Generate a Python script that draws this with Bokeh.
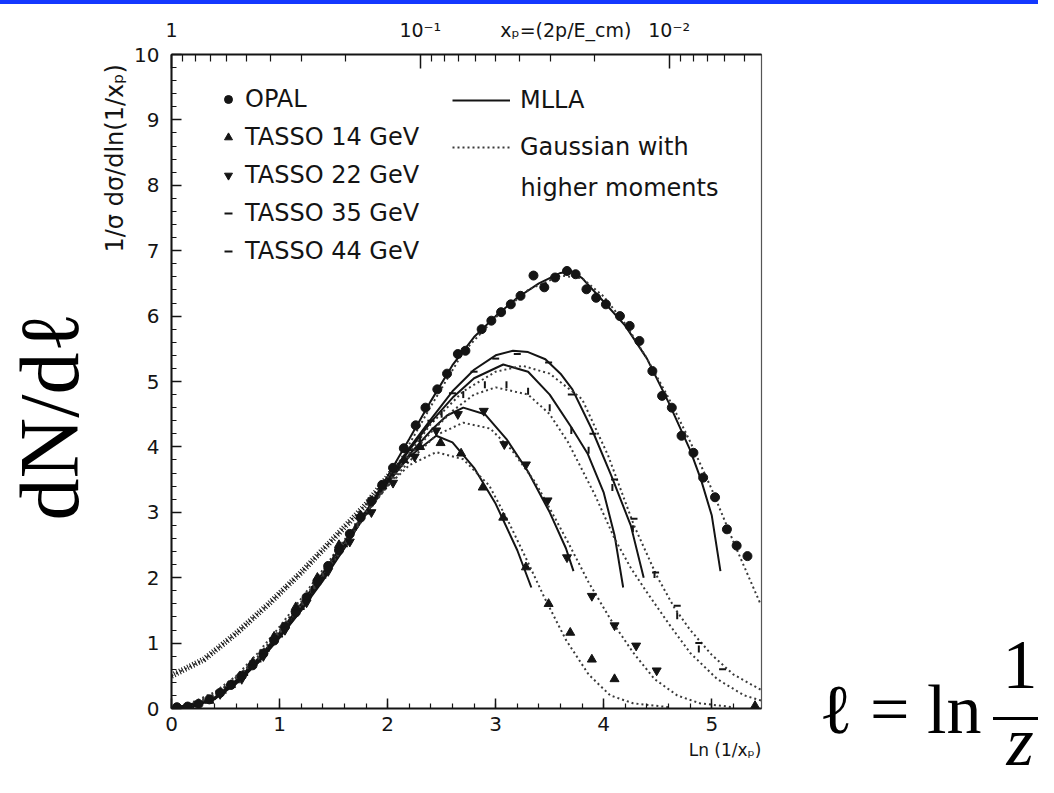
import numpy as np
from bokeh.plotting import figure
from bokeh.models import (Range1d, LinearAxis, FixedTicker, SingleIntervalTicker, Label,
                          Legend, LegendItem, Title, Div)
from bokeh.layouts import column, row
from bokeh.embed import file_html
from bokeh.resources import INLINE

# ---------------- data ----------------
opal_x = [0.05, 0.15, 0.25, 0.35, 0.45, 0.55, 0.65, 0.75, 0.85, 0.95, 1.05, 1.15, 1.25, 1.35,
          1.45, 1.55, 1.65, 1.75, 1.85, 1.95, 2.05, 2.15, 2.26, 2.35, 2.46, 2.55, 2.65, 2.72,
          2.87, 2.96, 3.05, 3.14, 3.23, 3.35, 3.45, 3.55, 3.66, 3.74, 3.84, 3.93, 4.02, 4.15,
          4.24, 4.33, 4.45, 4.54, 4.63, 4.72, 4.83, 4.92, 5.03, 5.14, 5.23, 5.33]
opal_y = [0.02, 0.03, 0.07, 0.14, 0.24, 0.36, 0.50, 0.66, 0.84, 1.04, 1.25, 1.47, 1.70, 1.94,
          2.18, 2.42, 2.67, 2.92, 3.17, 3.42, 3.68, 3.98, 4.33, 4.60, 4.88, 5.12, 5.42, 5.47,
          5.80, 5.93, 6.06, 6.18, 6.31, 6.62, 6.44, 6.59, 6.69, 6.64, 6.41, 6.28, 6.18, 6.00,
          5.85, 5.62, 5.16, 4.78, 4.60, 4.17, 3.91, 3.53, 3.23, 2.74, 2.49, 2.33]

t14_x = [0.35, 0.55, 0.75, 0.95, 1.15, 1.35, 1.55, 1.75, 1.95, 2.15, 2.30, 2.49, 2.68, 2.88,
         3.07, 3.28, 3.49, 3.69, 3.89, 4.10, 5.40]
t14_y = [0.12, 0.36, 0.70, 1.10, 1.55, 2.00, 2.50, 2.95, 3.40, 3.80, 4.00, 4.06, 3.90, 3.38,
         2.92, 2.16, 1.60, 1.16, 0.75, 0.45, 0.04]

t22_x = [0.45, 0.65, 0.85, 1.05, 1.25, 1.45, 1.65, 1.85, 2.05, 2.25, 2.45, 2.65, 2.89, 3.08,
         3.28, 3.48, 3.66, 3.89, 4.10, 4.30, 4.49]
t22_y = [0.22, 0.45, 0.80, 1.20, 1.62, 2.10, 2.55, 3.00, 3.45, 3.85, 4.25, 4.50, 4.55, 4.04,
         3.73, 3.18, 2.31, 1.72, 1.27, 0.96, 0.58]

t35_x = [0.50, 0.70, 0.90, 1.10, 1.30, 1.50, 1.70, 1.90, 2.10, 2.30, 2.50, 2.70, 2.90, 3.10,
         3.30, 3.50, 3.70, 3.86, 4.08, 4.27, 4.47, 4.68, 4.88]
t35_y = [0.28, 0.55, 0.92, 1.35, 1.82, 2.30, 2.78, 3.25, 3.70, 4.12, 4.50, 4.80, 4.95, 4.95,
         4.85, 4.60, 4.25, 3.95, 3.38, 2.75, 2.05, 1.42, 0.91]

t44_x = [0.60, 0.80, 1.00, 1.20, 1.40, 1.60, 1.80, 2.00, 2.20, 2.40, 2.60, 2.80, 3.00, 3.20,
         3.49, 3.70, 3.90, 4.10, 4.28, 4.48, 4.68, 4.88, 5.10]
t44_y = [0.40, 0.72, 1.10, 1.52, 2.00, 2.48, 2.98, 3.48, 3.95, 4.40, 4.82, 5.15, 5.35, 5.42,
         5.29, 4.80, 4.20, 3.50, 2.90, 2.08, 1.57, 1.00, 0.60]

mlla_opal_x = [0.0, 0.2, 0.4, 0.6, 0.8, 1.0, 1.2, 1.4, 1.6, 1.8, 2.0, 2.2, 2.4, 2.6, 2.8, 3.0,
               3.2, 3.4, 3.6, 3.7, 3.8, 4.0, 4.2, 4.4, 4.6, 4.8, 4.9, 5.0, 5.08]
mlla_opal_y = [0.0, 0.03, 0.15, 0.38, 0.70, 1.08, 1.50, 1.95, 2.45, 3.00, 3.55, 4.12, 4.70,
               5.25, 5.68, 6.00, 6.28, 6.50, 6.66, 6.69, 6.58, 6.22, 5.85, 5.35, 4.68, 3.95,
               3.50, 2.95, 2.10]
gauss_opal_x = [0.0, 0.3, 0.6, 0.9, 1.2, 1.5, 1.8, 2.1, 2.4, 2.7, 3.0, 3.3, 3.6, 3.8, 4.0, 4.2,
                4.4, 4.6, 4.8, 5.0, 5.2, 5.45]
gauss_opal_y = [0.50, 0.75, 1.15, 1.60, 2.08, 2.60, 3.12, 3.75, 4.62, 5.45, 5.98, 6.40, 6.62,
                6.58, 6.30, 5.88, 5.35, 4.75, 4.08, 3.35, 2.55, 1.60]

mlla_14_x = [0.0, 0.2, 0.4, 0.6, 0.8, 1.0, 1.2, 1.4, 1.6, 1.8, 2.0, 2.2, 2.45, 2.6, 2.8, 3.0,
             3.2, 3.33]
mlla_14_y = [0.0, 0.04, 0.17, 0.42, 0.76, 1.16, 1.60, 2.07, 2.55, 3.02, 3.45, 3.85, 4.17, 4.07,
             3.68, 3.13, 2.42, 1.85]
gauss_14_x = [0.2, 0.4, 0.6, 0.8, 1.0, 1.2, 1.4, 1.6, 1.8, 2.0, 2.2, 2.45, 2.7, 2.94, 3.12,
              3.28, 3.45, 3.65, 3.86, 4.06, 4.27, 4.6]
gauss_14_y = [0.10, 0.25, 0.50, 0.85, 1.25, 1.68, 2.12, 2.58, 3.00, 3.40, 3.72, 3.92, 3.81,
              3.41, 2.85, 2.30, 1.70, 1.05, 0.52, 0.20, 0.08, 0.02]

mlla_22_x = [0.0, 0.2, 0.4, 0.6, 0.8, 1.0, 1.2, 1.4, 1.6, 1.8, 2.0, 2.2, 2.4, 2.55, 2.7, 2.9,
             3.1, 3.3, 3.5, 3.65, 3.72]
mlla_22_y = [0.0, 0.03, 0.16, 0.40, 0.73, 1.12, 1.55, 2.02, 2.50, 2.98, 3.45, 3.88, 4.25, 4.48,
             4.60, 4.50, 4.12, 3.62, 3.00, 2.45, 2.10]
gauss_22_x = [0.2, 0.4, 0.6, 0.8, 1.0, 1.2, 1.4, 1.6, 1.8, 2.0, 2.2, 2.45, 2.7, 2.95, 3.15,
              3.37, 3.52, 3.67, 3.86, 4.06, 4.27, 4.47, 4.68, 4.89, 5.2]
gauss_22_y = [0.08, 0.22, 0.46, 0.80, 1.20, 1.63, 2.08, 2.54, 2.98, 3.40, 3.78, 4.18, 4.37,
              4.28, 3.95, 3.45, 3.00, 2.54, 1.93, 1.37, 0.86, 0.45, 0.20, 0.08, 0.02]

mlla_35_x = [0.0, 0.4, 0.8, 1.2, 1.6, 2.0, 2.2, 2.4, 2.6, 2.8, 3.07, 3.3, 3.5, 3.7, 3.85, 4.0,
             4.1, 4.18]
mlla_35_y = [0.0, 0.15, 0.72, 1.52, 2.47, 3.48, 3.95, 4.38, 4.75, 5.05, 5.26, 5.15, 4.80, 4.30,
             3.90, 3.30, 2.65, 1.85]
gauss_35_x = [0.2, 0.4, 0.8, 1.2, 1.6, 2.0, 2.2, 2.4, 2.6, 2.8, 3.0, 3.3, 3.5, 3.67, 3.92,
              4.10, 4.25, 4.39, 4.6, 4.8, 5.05, 5.3, 5.46]
gauss_35_y = [0.07, 0.20, 0.77, 1.58, 2.50, 3.42, 3.85, 4.22, 4.55, 4.80, 4.91, 4.80, 4.50,
              4.07, 3.26, 2.60, 2.15, 1.80, 1.30, 0.85, 0.45, 0.20, 0.12]

mlla_44_x = [0.0, 0.4, 0.8, 1.2, 1.6, 2.0, 2.2, 2.4, 2.6, 2.8, 3.0, 3.16, 3.3, 3.46, 3.6, 3.71,
             3.89, 4.07, 4.25, 4.37]
mlla_44_y = [0.0, 0.14, 0.70, 1.50, 2.46, 3.50, 3.98, 4.42, 4.85, 5.18, 5.40, 5.47, 5.45, 5.34,
             5.12, 4.88, 4.27, 3.56, 2.80, 2.00]
gauss_44_x = [0.2, 0.4, 0.8, 1.2, 1.6, 2.0, 2.4, 2.7, 3.0, 3.25, 3.5, 3.8, 4.04, 4.28, 4.49,
              4.65, 4.8, 5.0, 5.2, 5.46]
gauss_44_y = [0.06, 0.19, 0.75, 1.55, 2.48, 3.45, 4.35, 4.85, 5.15, 5.24, 5.12, 4.73, 3.87,
              2.80, 2.03, 1.55, 1.20, 0.82, 0.52, 0.28]

# top axis: x_p values of the ticks and of the axis title
xp_major = [1.0, 0.1, 0.01]
xp_minor = [0.9, 0.8, 0.7, 0.6, 0.5, 0.4, 0.3, 0.2,
            0.09, 0.08, 0.07, 0.06, 0.05, 0.04, 0.03, 0.02,
            0.009, 0.008, 0.007, 0.006, 0.005]
xp_text = [1.0, 0.1, 0.026, 0.01]
xp_text_labels = ["1", "10\u207b\u00b9", "x\u209a=(2p/E_cm)", "10\u207b\u00b2"]

legend_data = ["OPAL", "TASSO 14 GeV", "TASSO 22 GeV", "TASSO 35 GeV", "TASSO 44 GeV"]
legend_lines = ["MLLA", "Gaussian with"]

# ---------------- layout constants ----------------
BAR = 4                       # blue slide rule above the figure
H = 777 - BAR
W_MAIN = 815                  # scanned plot
W_SIDE = 1038 - W_MAIN        # slide formula to its right
BL, BT, BB = 163, 50, 69
BR = W_MAIN - BL - 598

FONT = "DejaVu Sans"
SERIF = "Liberation Serif"
INK = "#141414"

p = figure(width=W_MAIN, height=H, output_backend="svg", toolbar_location=None,
           x_range=Range1d(0, 5.46), y_range=Range1d(0, 10),
           min_border_left=BL, min_border_right=BR, min_border_top=BT, min_border_bottom=BB,
           x_axis_type=None, y_axis_type=None)
p.xgrid.visible = False
p.ygrid.visible = False
p.outline_line_color = "#555555"
p.outline_line_width = 1.2
p.background_fill_color = "white"
p.border_fill_color = "white"


def style_axis(ax, size="20px"):
    ax.axis_line_width = 2
    ax.axis_line_color = INK
    ax.major_tick_line_color = INK
    ax.minor_tick_line_color = INK
    ax.major_tick_line_width = 1.5
    ax.minor_tick_line_width = 1.2
    ax.major_tick_in = 10
    ax.major_tick_out = 0
    ax.minor_tick_in = 5
    ax.minor_tick_out = 0
    ax.major_label_text_font = FONT
    ax.major_label_text_font_size = size
    ax.major_label_text_color = INK


left = LinearAxis(ticker=SingleIntervalTicker(interval=1, num_minor_ticks=5))
style_axis(left)
left.major_label_standoff = 12
p.add_layout(left, "left")

bottom = LinearAxis(ticker=SingleIntervalTicker(interval=1, num_minor_ticks=5))
style_axis(bottom)
bottom.major_label_standoff = 8
p.add_layout(bottom, "below")

# top axis: tick marks of x_p (log scale), then its labels on a second, tick-less axis
top_ticks = [float(np.log(1.0 / v)) for v in xp_major]
top_minor = [float(np.log(1.0 / v)) for v in xp_minor]
top = LinearAxis(ticker=FixedTicker(ticks=top_ticks, minor_ticks=top_minor))
style_axis(top, "1px")
top.major_tick_in = 14
top.minor_tick_in = 7
top.major_label_standoff = 0
top.major_label_overrides = {t: "" for t in top_ticks}
p.add_layout(top, "above")

text_ticks = [float(np.log(1.0 / v)) for v in xp_text]
top_text = LinearAxis(ticker=FixedTicker(ticks=text_ticks, minor_ticks=[]))
style_axis(top_text, "19px")
top_text.axis_line_color = None
top_text.major_tick_line_color = None
top_text.minor_tick_line_color = None
top_text.major_tick_in = 0
top_text.minor_tick_in = 0
top_text.major_label_standoff = 14
top_text.major_label_overrides = {t: s for t, s in zip(text_ticks, xp_text_labels)}
p.add_layout(top_text, "above")


def side_title(text, side, size, font=FONT, align="center", offset=0, standoff=0, color=INK):
    kw = dict(text=text, align=align, offset=offset, text_font=font, text_font_size=size,
              text_color=color, text_font_style="normal")
    if "standoff" in Title.properties():
        kw["standoff"] = standoff
    p.add_layout(Title(**kw), side)


# y title of the scanned plot, then the slide's big dN/dl
side_title("1/\u03c3  d\u03c3/dln(1/x\u209a)", "left", "24px", align="right", offset=2,
           standoff=6)
side_title("dN/d\u2113", "left", "84px", font=SERIF, align="left", offset=188, standoff=0,
           color="black")
side_title("Ln (1/x\u209a)", "below", "17px", align="right", offset=0, standoff=8)

# ---------------- curves ----------------
GRAY = "#3a3a3a"
r_mlla = p.line(mlla_opal_x, mlla_opal_y, line_width=2, color=INK)
p.line(mlla_14_x, mlla_14_y, line_width=2, color=INK)
p.line(mlla_22_x, mlla_22_y, line_width=2, color=INK)
p.line(mlla_35_x, mlla_35_y, line_width=2, color=INK)
p.line(mlla_44_x, mlla_44_y, line_width=2, color=INK)

r_gauss = p.line(gauss_14_x, gauss_14_y, line_width=2, color=GRAY, line_dash="2 3")
p.line(gauss_22_x, gauss_22_y, line_width=2, color=GRAY, line_dash="2 3")
p.line(gauss_35_x, gauss_35_y, line_width=2, color=GRAY, line_dash="2 3")
p.line(gauss_44_x, gauss_44_y, line_width=2, color=GRAY, line_dash="2 3")
p.line(gauss_opal_x, gauss_opal_y, line_width=2, color=GRAY, line_dash="2 3")
low_x = [x for x in gauss_opal_x if x <= 2.1]
low_y = [y for x, y in zip(gauss_opal_x, gauss_opal_y) if x <= 2.1]
p.line(low_x, low_y, line_width=6, color=INK, line_dash="1 2")

# ---------------- data points ----------------
r_opal = p.scatter(opal_x, opal_y, marker="circle", size=9, color=INK)
r_t14 = p.scatter(t14_x, t14_y, marker="triangle", size=9, color=INK)
r_t22 = p.scatter(t22_x, t22_y, marker="inverted_triangle", size=9, color=INK)
r_t35 = p.scatter(t35_x, t35_y, marker="dash", size=7, angle=np.pi / 2, line_width=2, color=INK)
r_t44 = p.scatter(t44_x, t44_y, marker="dash", size=7, line_width=2, color=INK)

# ---------------- legends ----------------
leg1 = Legend(items=[LegendItem(label=l, renderers=[r]) for l, r in
                     zip(legend_data, [r_opal, r_t14, r_t22, r_t35, r_t44])],
              location=(47, 443), glyph_width=20, glyph_height=24, label_height=24,
              spacing=10, padding=0, margin=0, label_standoff=7,
              border_line_alpha=0, background_fill_alpha=0,
              label_text_font=FONT, label_text_font_size="24px", label_text_color=INK)
p.add_layout(leg1)

leg2 = Legend(items=[LegendItem(label=l, renderers=[r]) for l, r in
                     zip(legend_lines, [r_mlla, r_gauss])],
              location=(281, 547), glyph_width=58, glyph_height=24, label_height=24,
              spacing=19, padding=0, margin=0, label_standoff=10,
              border_line_alpha=0, background_fill_alpha=0,
              label_text_font=FONT, label_text_font_size="24px", label_text_color=INK)
p.add_layout(leg2)

p.add_layout(Label(text="higher moments", x=349, y=521, x_units="screen", y_units="screen",
                   text_font=FONT, text_font_size="24px", text_baseline="middle",
                   text_color=INK))

# ---------------- slide formula: l = ln 1/z, to the right of the plot ----------------
BOX = "position:absolute;font-family:'Liberation Serif',serif;font-size:70px;line-height:70px;color:#000;white-space:nowrap;"
formula_html = (
    f'<div style="position:relative;width:{W_SIDE}px;height:{H}px;overflow:hidden;background:#fff;">'
    f'<div style="{BOX}left:4px;top:671px;">\u2113 = ln</div>'
    f'<div style="{BOX}left:187px;width:36px;top:626px;text-align:center;">1</div>'
    f'<div style="position:absolute;left:178px;width:{W_SIDE - 178}px;top:713px;height:3px;background:#000;"></div>'
    f'<div style="{BOX}left:187px;width:36px;top:703px;height:70px;text-align:center;font-style:italic;">z</div>'
    '</div>'
)
formula = Div(text=formula_html, width=W_SIDE, height=H, margin=0)

rule = Div(text="", width=1038, height=BAR, margin=0, styles={"background-color": "#1438ff"})
layout = column(rule, row(p, formula, spacing=0), spacing=0)

open("out.html", "w").write(file_html(layout, INLINE))
